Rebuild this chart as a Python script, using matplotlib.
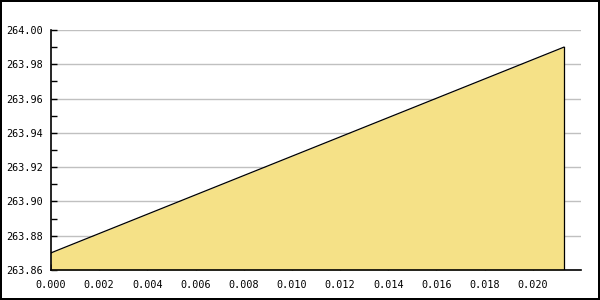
import matplotlib
matplotlib.use("Agg")
import matplotlib.pyplot as plt
from matplotlib.ticker import FormatStrFormatter, MultipleLocator

x_vals = [0.0, 0.02129]
y_vals = [263.87, 263.99]
x_ticks = [0.000, 0.002, 0.004, 0.006, 0.008, 0.010, 0.012, 0.014, 0.016, 0.018, 0.020]

fig = plt.figure(figsize=(6, 3), dpi=100)
fig.patch.set_facecolor("white")
fig.patch.set_edgecolor("black")
fig.patch.set_linewidth(1.5)
ax = fig.add_axes([51/600, 30/300, (581-51)/600, 240/300])
base = 263.86
ax.fill_between(x_vals, y_vals, base, color="#F5E187", linewidth=0, zorder=2)
ax.plot(x_vals, y_vals, color="black", linewidth=0.9, zorder=3)
ax.plot([x_vals[-1], x_vals[-1]], [base, y_vals[-1]], color="black", linewidth=0.9, zorder=3)

ax.set_xlim(0, 0.022)
ax.set_ylim(263.86, 264.00)
ax.set_xticks(x_ticks)
ax.yaxis.set_major_locator(MultipleLocator(0.02))
ax.yaxis.set_minor_locator(MultipleLocator(0.01))
ax.xaxis.set_major_formatter(FormatStrFormatter("%.3f"))
ax.yaxis.set_major_formatter(FormatStrFormatter("%.2f"))
ax.grid(axis="y", which="major", color="#c0c0c0", linewidth=1, zorder=1)
for s in ["top", "right"]:
    ax.spines[s].set_visible(False)
for s in ["left", "bottom"]:
    ax.spines[s].set_linewidth(1.2)
    ax.spines[s].set_zorder(4)
ax.tick_params(axis="both", which="both", direction="in", length=4, width=1, colors="black",
               labelsize=7.3)
ax.tick_params(axis="y", pad=6)
ax.tick_params(axis="x", pad=7)
for lab in ax.get_xticklabels() + ax.get_yticklabels():
    lab.set_family("DejaVu Sans Mono")
fig.savefig("out.png", dpi=100)
